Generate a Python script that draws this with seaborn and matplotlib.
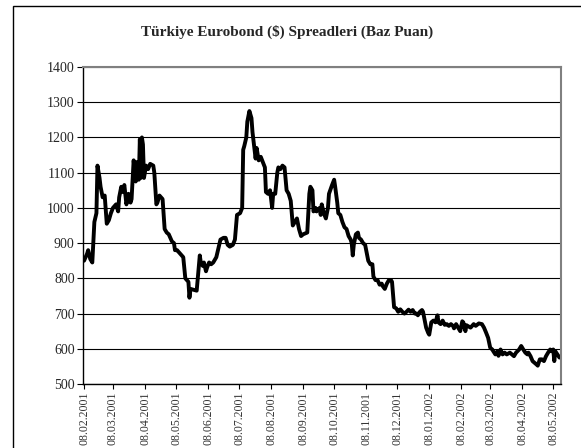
import matplotlib
matplotlib.use('Agg')
import matplotlib.pyplot as plt
import seaborn as sns
import pandas as pd
from matplotlib.patches import Rectangle

# data: days after 08.02.2001 and spread (bps)
start_date = '2001-02-08'
day = [0, 3, 4, 6, 8, 10, 12, 13, 15, 16, 18, 20, 22, 24, 26, 28, 31, 33, 34, 36,
       37, 39, 41, 43, 45, 46, 48, 50, 51, 53, 54, 55, 56, 57, 58, 60, 62, 64, 67, 68,
       70, 71, 73, 76, 78, 80, 82, 85, 87, 88, 90, 93, 96, 98, 101, 102, 103, 109, 112, 113,
       115, 116, 118, 119, 121, 123, 125, 128, 132, 135, 137, 139, 141, 144, 146, 148, 151, 153, 154, 155,
       157, 158, 160, 162, 163, 166, 167, 169, 171, 173, 175, 176, 178, 180, 182, 183, 185, 187, 188, 190,
       192, 194, 196, 198, 200, 202, 204, 206, 208, 210, 212, 216, 218, 219, 221, 222, 224, 225, 228, 229,
       230, 232, 234, 236, 237, 240, 242, 243, 245, 246, 248, 250, 252, 254, 256, 258, 259, 260, 261, 263,
       265, 266, 268, 270, 272, 273, 275, 277, 279, 280, 282, 284, 286, 288, 289, 291, 293, 295, 297, 298,
       300, 302, 304, 306, 308, 310, 312, 314, 316, 318, 320, 322, 323, 325, 327, 328, 329, 331, 333, 334,
       336, 338, 340, 342, 343, 345, 347, 349, 351, 353, 355, 357, 358, 360, 362, 364, 366, 367, 369, 370,
       374, 377, 379, 382, 385, 387, 389, 391, 393, 395, 396, 398, 400, 401, 403, 405, 407, 409, 412, 414,
       416, 418, 421, 423, 425, 427, 429, 430, 432, 434, 436, 438, 439, 441, 443, 445, 447, 449, 451, 452,
       454, 455, 456, 458, 460]
spread = [850, 870, 880, 855, 845, 960, 985, 1120, 1085, 1060, 1030, 1035, 955, 965, 985, 1000, 1010, 990, 1030, 1060,
          1045, 1065, 1010, 1040, 1015, 1025, 1135, 1075, 1130, 1080, 1195, 1085, 1200, 1180, 1085, 1120, 1110, 1125, 1120, 1100,
          1010, 1015, 1035, 1025, 940, 930, 925, 905, 900, 880, 880, 870, 860, 800, 790, 745, 770, 765, 865, 845,
          835, 845, 820, 830, 845, 840, 845, 860, 910, 915, 915, 895, 890, 895, 910, 980, 985, 1000, 1165, 1175,
          1200, 1245, 1275, 1255, 1215, 1140, 1170, 1135, 1145, 1130, 1115, 1045, 1040, 1050, 1000, 1040, 1040, 1100, 1115, 1110,
          1120, 1115, 1050, 1040, 1020, 950, 960, 970, 940, 920, 925, 930, 1040, 1060, 1050, 990, 1000, 990, 1000, 980,
          1010, 985, 970, 1000, 1040, 1065, 1080, 1060, 1015, 985, 980, 960, 945, 940, 920, 910, 900, 865, 895, 925,
          930, 915, 910, 900, 895, 880, 850, 840, 840, 805, 795, 795, 782, 785, 778, 770, 785, 795, 795, 790,
          718, 715, 705, 712, 705, 700, 705, 711, 705, 710, 700, 700, 695, 705, 710, 705, 690, 660, 645, 640,
          675, 680, 675, 695, 675, 670, 680, 668, 670, 665, 670, 665, 658, 670, 660, 650, 678, 675, 650, 667,
          660, 670, 665, 672, 670, 660, 646, 631, 603, 598, 593, 584, 593, 580, 598, 584, 589, 584, 589, 584,
          579, 589, 598, 608, 598, 589, 584, 589, 579, 565, 560, 555, 552, 570, 570, 565, 579, 589, 598, 593,
          598, 565, 593, 584, 575]
y_ticks = [500, 600, 700, 800, 900, 1000, 1100, 1200, 1300, 1400]
title = 'Türkiye Eurobond ($) Spreadleri (Baz Puan)'

sns.set_style('white')
plt.rcParams['font.family'] = ['Liberation Serif', 'DejaVu Serif']

df = pd.DataFrame({'date': pd.Timestamp(start_date) + pd.to_timedelta(day, unit='D'),
                   'spread': spread})

fig = plt.figure(figsize=(5.81, 4.48), dpi=100)
ax = fig.add_axes([83/581, 1-384/448, (561-83)/581, (384-67)/448])

sns.lineplot(data=df, x='date', y='spread', ax=ax, color='black', lw=2.8)

ax.set_ylim(500, 1400)
ax.set_yticks(y_ticks)
ax.yaxis.grid(True, color='black', lw=0.8)
ax.set_axisbelow(True)

ax.set_xlim(pd.Timestamp('2001-02-07'), pd.Timestamp('2002-05-15 12:00'))
month_ticks = [pd.Timestamp(start_date) + pd.DateOffset(months=i) for i in range(16)]
ax.set_xticks(month_ticks)
ax.set_xticklabels([t.strftime('%d.%m.%Y') for t in month_ticks], rotation=90,
                   fontsize=8.5, color='#333333')
ax.set_xlabel('')
ax.set_ylabel('')

for side in ['left', 'bottom']:
    ax.spines[side].set_color('black')
    ax.spines[side].set_linewidth(1)
for side in ['top', 'right']:
    ax.spines[side].set_color('#808080')
    ax.spines[side].set_linewidth(1.5)

ax.tick_params(axis='y', left=True, length=4, width=0.8, color='black', labelsize=10, pad=2)
ax.tick_params(axis='x', bottom=True, length=3.5, width=0.8, color='black', pad=2)

fig.text(0.494, 0.929, title, ha='center', va='center', fontsize=11, fontweight='bold')

# outer chart frame (only left and top edges fall inside the image)
fig.add_artist(Rectangle((13/581, -0.1), 1.2, 1 - 6/448 + 0.1, transform=fig.transFigure,
                         fill=False, ec='black', lw=1))

fig.savefig('out.png', dpi=100)
